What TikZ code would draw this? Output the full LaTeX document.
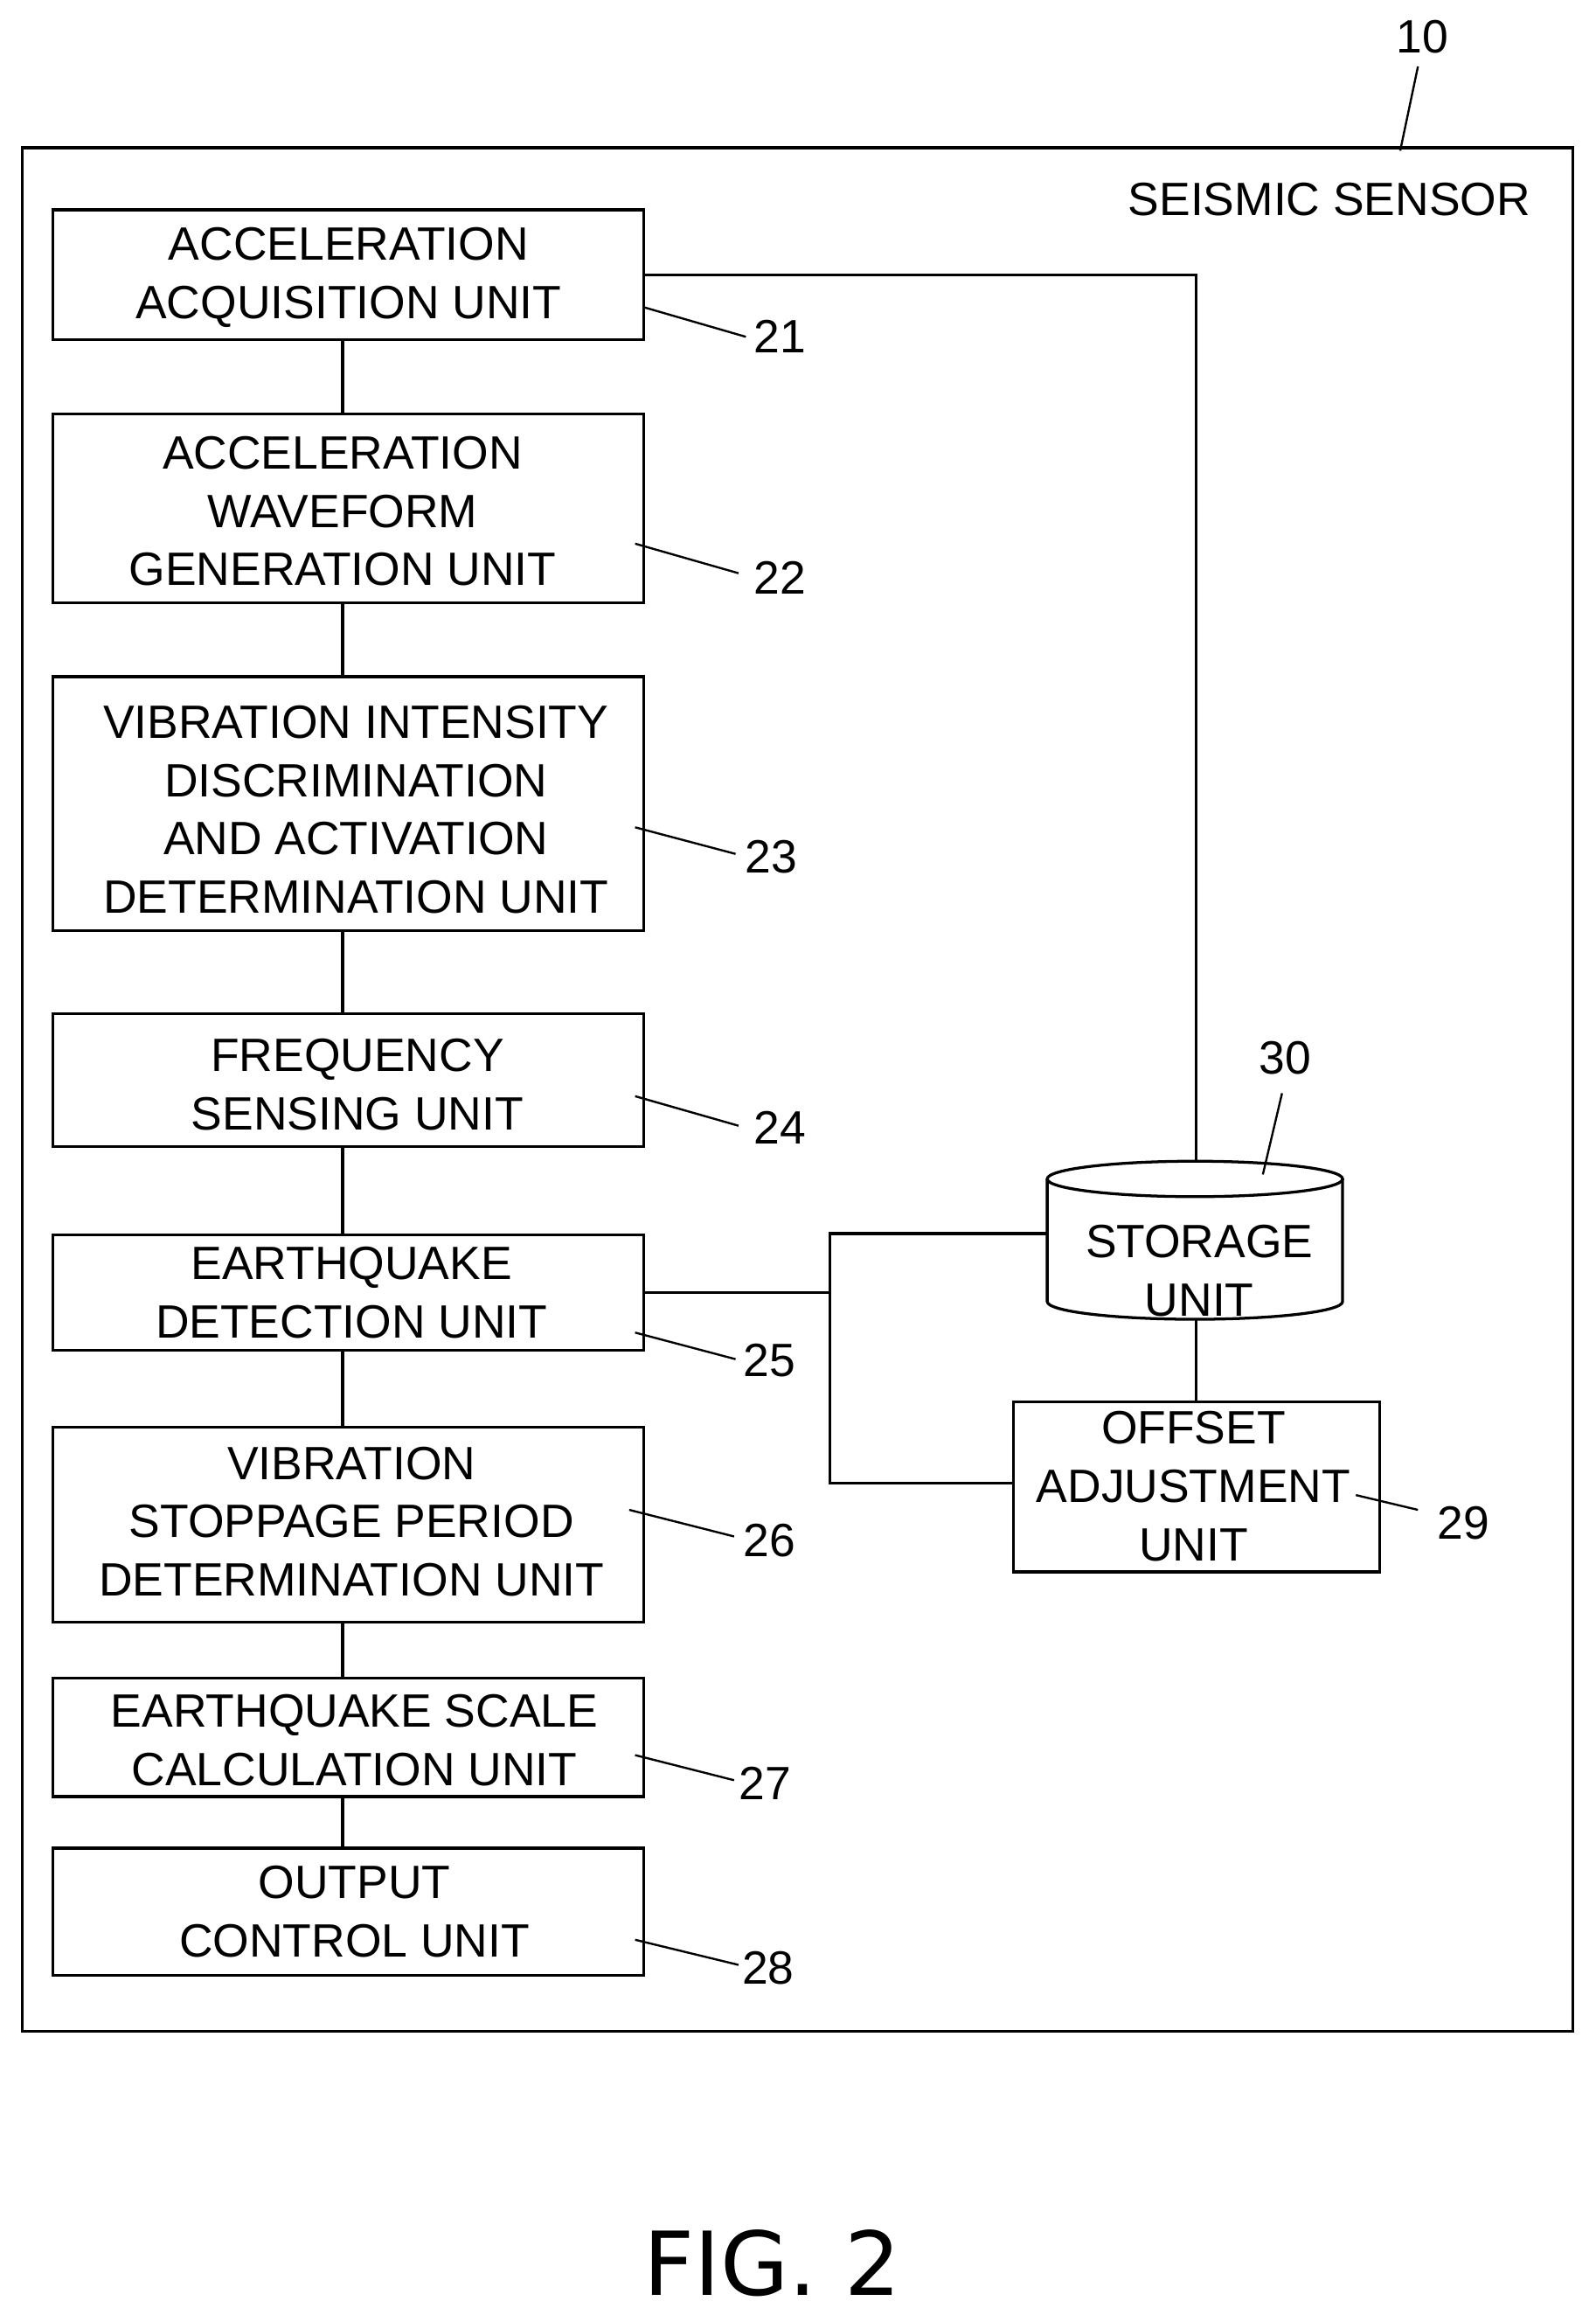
\documentclass[tikz,border=0pt]{standalone}
\usepackage{fontspec}
\setmainfont{Liberation Sans}
\newfontfamily\figfont{DejaVu Sans}
\usetikzlibrary{shapes.geometric}
\begin{document}
\begin{tikzpicture}[x=0.02cm,y=-0.02cm,line width=1.1pt,
  txt/.style={font=\fontsize{18}{22.5}\selectfont,align=center,inner sep=0},
  box/.style={draw},
  lbl/.style={font=\fontsize{18}{22}\selectfont,inner sep=0}]
\useasboundingbox (0,0) rectangle (1080,1567);
\draw (15,100) rectangle (1065,1375);
\node[lbl] at (900,135) {SEISMIC SENSOR};
\node[lbl] (l10) at (963,25) {10};
\coordinate (c10) at (948,102);
\draw[line width=0.8pt] (960,45) -- (c10);
% boxes
\draw (36,142) rectangle (436,230); \node[txt] (t21) at (236,188) {ACCELERATION\\ACQUISITION UNIT};
\draw (36,280) rectangle (436,408); \node[txt] (t22) at (232,346) {ACCELERATION\\WAVEFORM\\GENERATION UNIT};
\draw (36,458) rectangle (436,630); \node[txt] (t23) at (241,548) {VIBRATION INTENSITY\\DISCRIMINATION\\AND ACTIVATION\\DETERMINATION UNIT};
\draw (36,686) rectangle (436,776); \node[txt] (t24) at (242,734) {FREQUENCY\\SENSING UNIT};
\draw (36,836) rectangle (436,914); \node[txt] (t25) at (238,875) {EARTHQUAKE\\DETECTION UNIT};
\draw (36,966) rectangle (436,1098); \node[txt] (t26) at (238,1030) {VIBRATION\\STOPPAGE PERIOD\\DETERMINATION UNIT};
\draw (36,1136) rectangle (436,1216); \node[txt] (t27) at (240,1178) {EARTHQUAKE SCALE\\CALCULATION UNIT};
\draw (36,1251) rectangle (436,1337); \node[txt] (t28) at (240,1294) {OUTPUT\\CONTROL UNIT};
% vertical links
\foreach \a/\b in {230/280,408/458,630/686,776/836,914/966,1098/1136,1216/1251}
  \draw (232,\a) -- (232,\b);
% cylinder
\draw (709,798) -- (709,881) arc[start angle=180,end angle=0,x radius=100,y radius=12] -- (909,798);
\draw (809,798) ellipse[x radius=100,y radius=12];
\node[txt] (t30) at (812,860) {STORAGE\\UNIT};
\node[lbl] at (870,716) {30};
\draw[line width=0.8pt] (855,795) -- (868,740);
% offset box
\draw (686,949) rectangle (934,1064); \node[txt] (t29) at (808,1006) {OFFSET\\ADJUSTMENT\\UNIT};
% connections
\draw (436,186) -- (810,186) -- (810,786);
\draw (436,875) -- (562,875);
\draw (709,835) -- (562,835) -- (562,1004) -- (686,1004);
\draw (810,893) -- (810,949);
% leaders
\foreach \x/\y/\u/\v/\lx/\ly/\n in {436/208/505/228/528/228/21, 430/368/500/388/528/391/22, 430/560/498/578/522/580/23, 430/742/500/762/528/763/24, 430/902/498/920/521/921/25, 426/1022/497/1040/521/1043/26, 430/1188/497/1205/518/1207/27, 430/1313/500/1330/520/1332/28, 918/1012/960/1022/991/1031/29}{
  \draw[line width=0.8pt] (\x,\y) -- (\u,\v);
  \node[lbl] at (\lx,\ly) {\n};}
\node[font=\figfont\fontsize{34}{40}\selectfont,inner sep=0] at (523,1532) {FIG. 2};
\end{tikzpicture}
\end{document}
